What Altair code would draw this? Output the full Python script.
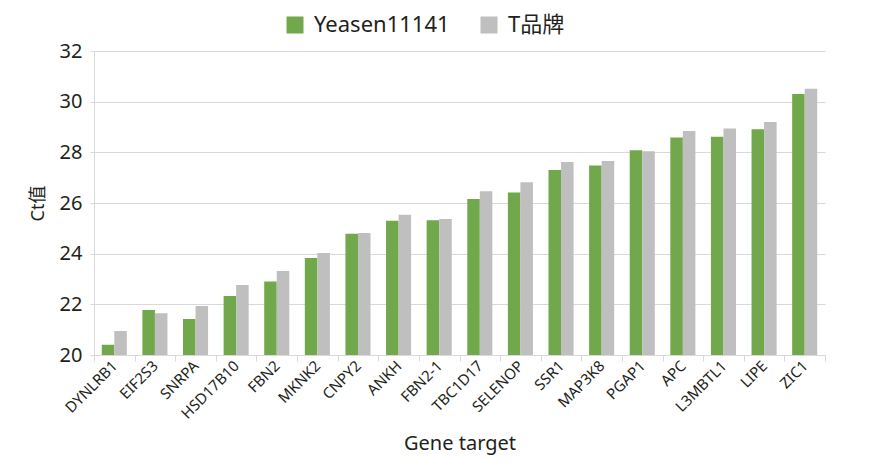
import altair as alt
import pandas as pd

genes = ["DYNLRB1", "EIF2S3", "SNRPA", "HSD17B10", "FBN2", "MKNK2", "CNPY2", "ANKH",
         "FBN2-1", "TBC1D17", "SELENOP", "SSR1", "MAP3K8", "PGAP1", "APC", "L3MBTL1",
         "LIPE", "ZIC1"]
yeasen = [20.40, 21.78, 21.42, 22.33, 22.90, 23.83, 24.79, 25.30, 25.32, 26.16, 26.41,
          27.30, 27.48, 28.08, 28.59, 28.62, 28.91, 30.30]
tbrand = [20.95, 21.65, 21.93, 22.76, 23.32, 24.03, 24.82, 25.54, 25.37, 26.46, 26.82,
          27.62, 27.66, 28.04, 28.84, 28.94, 29.20, 30.51]
series = ["Yeasen11141", "T品牌"]
colors = ["#70A84B", "#BFBFBF"]

rows = []
for g, a, b in zip(genes, yeasen, tbrand):
    rows.append({"gene": g, "series": series[0], "ct": a})
    rows.append({"gene": g, "series": series[1], "ct": b})
df = pd.DataFrame(rows)

FONT = "Noto Sans, Noto Sans CJK SC, sans-serif"
TXT = "#231F20"

chart = alt.Chart(df).mark_bar(clip=True).encode(
    x=alt.X("gene:N", sort=genes, title="Gene target",
            scale=alt.Scale(paddingInner=0, paddingOuter=0),
            axis=alt.Axis(labelAngle=-45, labelAlign="right", labelBaseline="middle",
                          tickBand="extent", labelFontSize=15, labelColor=TXT,
                          titleFontSize=20, titleFontWeight="normal", titleColor=TXT,
                          titlePadding=12, domainColor="#D9D9D9", tickColor="#D9D9D9",
                          tickSize=6, labelPadding=2, labelFont=FONT, titleFont=FONT)),
    xOffset=alt.XOffset("series:N", sort=series,
                        scale=alt.Scale(paddingInner=0, paddingOuter=0.62)),
    y=alt.Y("ct:Q", title="Ct值",
            scale=alt.Scale(domain=[20, 32], nice=False, zero=False),
            axis=alt.Axis(values=[20, 22, 24, 26, 28, 30, 32], labelFontSize=20,
                          labelColor=TXT, titleFontSize=18, titleFontWeight="normal",
                          titleColor=TXT, titlePadding=12, gridColor="#D9D9D9",
                          domainColor="#D9D9D9", tickColor="#D9D9D9", tickSize=4,
                          labelPadding=8, labelFont=FONT, titleFont=FONT)),
    color=alt.Color("series:N", sort=series,
                    scale=alt.Scale(domain=series, range=colors),
                    legend=alt.Legend(title=None, orient="none", direction="horizontal",
                                      legendX=190, legendY=-37, symbolType="square",
                                      symbolSize=289, symbolStrokeWidth=0,
                                      labelFontSize=22, labelColor=TXT, labelFont=FONT,
                                      columnPadding=28, labelOffset=8)),
).properties(
    width=731, height=304,
    padding={"left": 86, "top": 43, "right": 37, "bottom": 104},
    autosize=alt.AutoSizeParams(type="none"),
).configure_view(stroke=None)

chart.save("out.html", embed_options={"renderer": "svg", "actions": False})
